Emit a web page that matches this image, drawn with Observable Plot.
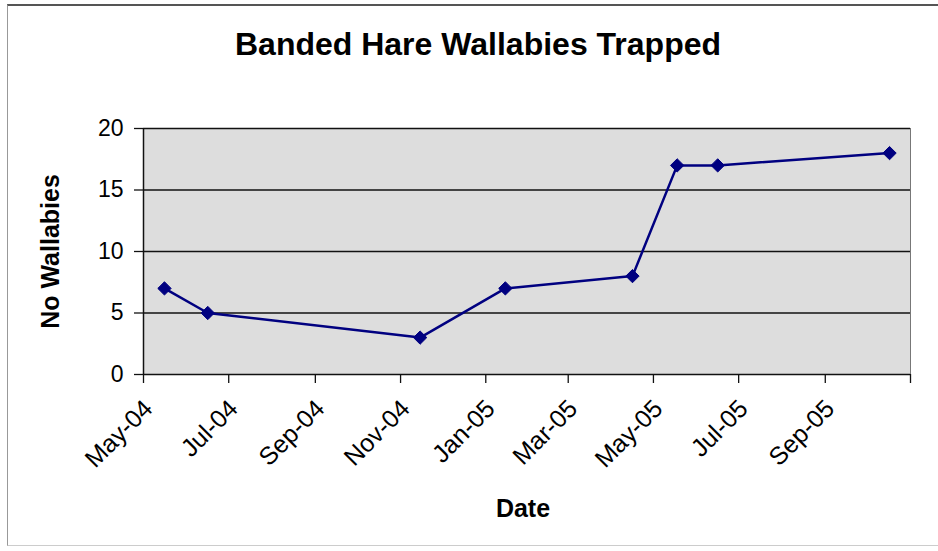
<!DOCTYPE html>
<html>
<head>
<meta charset="utf-8">
<script src="https://cdn.jsdelivr.net/npm/d3@7"></script>
<script src="https://cdn.jsdelivr.net/npm/@observablehq/plot@0.6"></script>
<style>
  html, body { margin: 0; padding: 0; background: #fff; }
  #wrap { position: relative; width: 938px; height: 551px; overflow: hidden;
          font-family: "Liberation Sans", Arial, sans-serif; }
  #border { position: absolute; left: 7px; top: 4px; width: 960px; height: 542px;
            border-top: 2px solid #555; border-left: 1.5px solid #999; border-bottom: 1px solid #ccc;
            box-sizing: border-box; pointer-events: none; }
  #title { height: 100px; box-sizing: border-box; padding-top: 28px; text-align: center;
           font-size: 32px; font-weight: bold; line-height: 1; color: #000; padding-left: 18px; }
  #chart svg { display: block; }
</style>
</head>
<body>
<div id="wrap">
  <div id="border"></div>
  <div id="title">Banded Hare Wallabies Trapped</div>
  <div id="chart"></div>
</div>
<script>
// Trapping survey results
const sampleDates = ["2004-05-16", "2004-06-16", "2004-11-15", "2005-01-15",
                     "2005-04-16", "2005-05-18", "2005-06-16", "2005-10-17"];
const wallabies = [7, 5, 3, 7, 8, 17, 17, 18];

// Axis ticks
const xTickDates = ["2004-05-01", "2004-07-01", "2004-09-01", "2004-11-01", "2005-01-01",
                    "2005-03-01", "2005-05-01", "2005-07-01", "2005-09-01", "2005-11-01"];
const yTicks = [0, 5, 10, 15, 20];
const gridValues = [5, 10, 15, 20];

const xLabel = "Date";
const yLabel = "No Wallabies";

const data = sampleDates.map((d, i) => ({date: new Date(d), count: wallabies[i]}));
const ticks = xTickDates.map(d => new Date(d));
const lastTick = +ticks[ticks.length - 1];
const fmt = d3.utcFormat("%b-%y");

const navy = "#000080";

const chart = Plot.plot({
  width: 938,
  height: 451,
  marginLeft: 143,
  marginRight: 28,
  marginTop: 28,
  marginBottom: 177,
  style: {fontFamily: "'Liberation Sans', Arial, sans-serif", color: "#000", background: "transparent"},
  x: {type: "utc", domain: [ticks[0], ticks[ticks.length - 1]]},
  y: {domain: [0, 20]},
  marks: [
    Plot.frame({fill: "#dddddd", stroke: "#777", strokeWidth: 1}),
    Plot.gridY(gridValues, {stroke: "#111", strokeOpacity: 1, strokeWidth: 1.3}),
    Plot.ruleX([ticks[0]], {stroke: "#111", strokeWidth: 1.5}),
    Plot.ruleY([0], {stroke: "#111", strokeWidth: 1.5}),
    Plot.axisY({ticks: yTicks, tickSize: 9, tickPadding: 11, fontSize: 23, label: null,
                stroke: "#111", strokeWidth: 1.3}),
    // x tick marks (month boundaries, every two months)
    Plot.axisX({ticks: ticks, tickSize: 9, label: null, stroke: "#111", strokeWidth: 1.3,
                tickFormat: () => ""}),
    // slanted month labels, set just right of each tick
    Plot.axisX({ticks: ticks, tickSize: 0, tickPadding: 30, fontSize: 25, tickRotate: -45, label: null,
                dx: 5, tickFormat: d => (+d === lastTick ? "" : fmt(d))}),
    Plot.line(data, {x: "date", y: "count", stroke: navy, strokeWidth: 2.5}),
    Plot.dot(data, {x: "date", y: "count", symbol: "diamond2", r: 6, fill: navy, stroke: navy, strokeWidth: 1}),
    Plot.text([xLabel], {frameAnchor: "bottom", dy: 134, dx: -4, fontSize: 25, fontWeight: "bold",
                         textAnchor: "middle", lineAnchor: "middle"}),
    Plot.text([yLabel], {frameAnchor: "left", dx: -93, rotate: -90, fontSize: 25, fontWeight: "bold",
                         textAnchor: "middle", lineAnchor: "middle"})
  ]
});
document.getElementById("chart").append(chart);
</script>
</body>
</html>
